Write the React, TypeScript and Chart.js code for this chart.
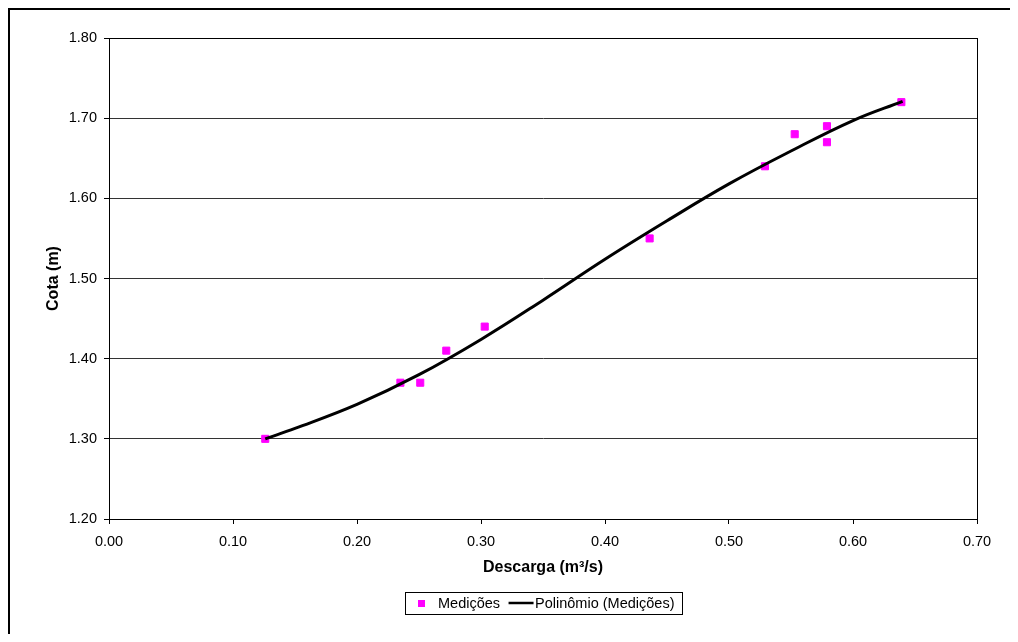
import React, { useEffect, useRef } from "react";
import { Chart, registerables } from "chart.js";

Chart.register(...registerables);

const MED_LABEL = "Medições";
const FIT_LABEL = "Polinômio (Medições)";
const X_TITLE = "Descarga (m³/s)";
const Y_TITLE = "Cota (m)";

const MED_X = [0.126, 0.235, 0.251, 0.272, 0.303, 0.436, 0.529, 0.553, 0.579, 0.579, 0.639];
const MED_Y = [1.3, 1.37, 1.37, 1.41, 1.44, 1.55, 1.64, 1.68, 1.69, 1.67, 1.72];

const FIT_X = [0.126, 0.15, 0.2, 0.25, 0.3, 0.35, 0.4, 0.45, 0.5, 0.55, 0.6, 0.64];
const FIT_Y = [1.3, 1.313, 1.343, 1.38, 1.424, 1.473, 1.524, 1.572, 1.618, 1.659, 1.697, 1.721];

const X_MIN = 0;
const X_MAX = 0.7;
const Y_MIN = 1.2;
const Y_MAX = 1.8;
const STEP = 0.1;

const FONT = '"Liberation Sans", Arial, Helvetica, sans-serif';

const framePlugin = {
  id: "frameAndLegend",
  afterDraw(chart: any) {
    const { ctx, chartArea: a } = chart;
    ctx.save();
    ctx.strokeStyle = "#000";
    ctx.lineWidth = 1;
    const l = Math.round(a.left) + 0.5;
    const t = Math.round(a.top) + 0.5;
    ctx.strokeRect(l, t, Math.round(a.right) - Math.round(a.left), Math.round(a.bottom) - Math.round(a.top));

    // legend
    const labels = [MED_LABEL, FIT_LABEL];
    ctx.font = `14.5px ${FONT}`;
    const w1 = ctx.measureText(labels[0]).width;
    const w2 = ctx.measureText(labels[1]).width;
    const total = 33 + w1 + 8.5 + 25 + 1.5 + w2 + 7.5;
    const cx = (a.left + a.right) / 2;
    const L = Math.round(cx - total / 2);
    const top = 582;
    const h = 22;
    const cy = top + h / 2;
    ctx.strokeStyle = "#000";
    ctx.lineWidth = 1;
    ctx.strokeRect(L + 0.5, top + 0.5, Math.round(total), h);
    ctx.fillStyle = "#FF00FF";
    ctx.fillRect(L + 13, Math.round(cy - 3), 7, 7);
    ctx.fillStyle = "#000";
    ctx.textBaseline = "middle";
    ctx.textAlign = "left";
    let x = L + 33;
    ctx.fillText(labels[0], x, cy + 0.5);
    x += w1 + 8.5;
    ctx.beginPath();
    ctx.lineWidth = 2.5;
    ctx.moveTo(x, cy);
    ctx.lineTo(x + 25, cy);
    ctx.stroke();
    x += 25 + 1.5;
    ctx.fillText(labels[1], x, cy + 0.5);
    ctx.restore();
  },
};

export default function App() {
  const ref = useRef<HTMLCanvasElement | null>(null);

  useEffect(() => {
    if (!ref.current) return;
    const chart = new Chart(ref.current, {
      type: "scatter",
      data: {
        datasets: [
          {
            type: "line",
            label: FIT_LABEL,
            data: FIT_X.map((x, i) => ({ x, y: FIT_Y[i] })),
            borderColor: "#000",
            borderWidth: 3,
            pointRadius: 0,
            tension: 0.4,
            fill: false,
            order: 0,
          },
          {
            type: "scatter",
            label: MED_LABEL,
            data: MED_X.map((x, i) => ({ x, y: MED_Y[i] })),
            backgroundColor: "#FF00FF",
            borderColor: "#FF00FF",
            borderWidth: 1,
            pointStyle: "rect",
            pointRadius: 5,
            order: 1,
          },
        ],
      } as any,
      options: {
        responsive: false,
        animation: false,
        layout: { padding: { top: 28, right: 33, left: 0, bottom: 0 } },
        plugins: {
          legend: { display: false },
          tooltip: { enabled: false },
        },
        scales: {
          x: {
            type: "linear",
            min: X_MIN,
            max: X_MAX,
            afterFit: (s: any) => {
              s.height = 115;
            },
            ticks: {
              stepSize: STEP,
              padding: 9,
              color: "#000",
              font: { family: FONT, size: 14.5 },
              callback: (v: any) => Number(v).toFixed(2),
            },
            grid: {
              drawOnChartArea: false,
              drawTicks: true,
              tickLength: 5,
              tickColor: "#000",
              color: "#000",
            },
            border: { display: true, color: "#000", width: 1 },
            title: {
              display: true,
              text: X_TITLE,
              color: "#000",
              font: { family: FONT, size: 16, weight: "bold" },
              padding: { top: 0, bottom: 56.4 },
            },
          },
          y: {
            type: "linear",
            min: Y_MIN,
            max: Y_MAX,
            afterFit: (s: any) => {
              s.width = 99;
            },
            ticks: {
              stepSize: STEP,
              padding: 7,
              color: "#000",
              font: { family: FONT, size: 14.5 },
              callback: (v: any) => Number(v).toFixed(2),
            },
            grid: {
              drawOnChartArea: true,
              drawTicks: true,
              tickLength: 5,
              tickColor: "#000",
              color: "#333",
              lineWidth: 1,
            },
            border: { display: true, color: "#000", width: 1 },
            title: {
              display: true,
              text: Y_TITLE,
              color: "#000",
              font: { family: FONT, size: 16, weight: "bold" },
              padding: { top: 34, bottom: 0 },
            },
          },
        },
      } as any,
      plugins: [framePlugin],
    });
    return () => chart.destroy();
  }, []);

  return (
    <div
      style={{
        width: 1002,
        height: 626,
        borderLeft: "2px solid #000",
        borderTop: "2px solid #000",
        boxSizing: "border-box",
        background: "#fff",
      }}
    >
      <canvas ref={ref} width={1000} height={624} style={{ display: "block" }} />
    </div>
  );
}
